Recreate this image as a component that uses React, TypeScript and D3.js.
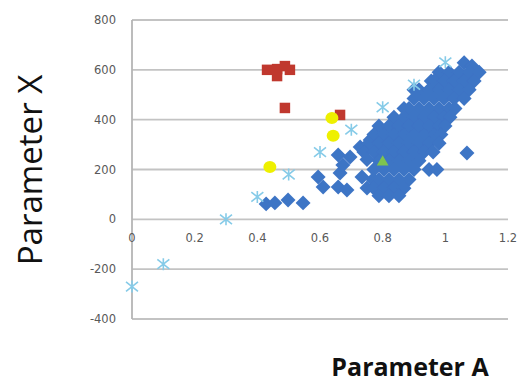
import React from 'react';
import * as d3 from 'd3';

const xTicks = [0, 0.2, 0.4, 0.6, 0.8, 1, 1.2];
const yTicks = [-400, -200, 0, 200, 400, 600, 800];

// blue diamonds (scattered ones first, then the dense band row by row)
const blueSeries: [number, number][] = [
  [0.428, 62], [0.456, 66], [0.498, 78], [0.546, 66],
  [0.594, 170], [0.61, 130], [0.658, 130], [0.686, 118], [0.664, 186], [0.673, 218],
  [0.658, 258], [0.696, 250], [0.734, 170], [0.75, 126], [0.728, 290], [0.76, 318],
  [1.069, 266],
  [1.06, 628], [1.085, 615],
  [0.98, 590], [1.012, 590], [1.044, 590], [1.076, 590], [1.108, 590],
  [0.955, 555], [0.964, 555], [0.996, 555], [1.028, 555], [1.06, 555], [1.092, 555],
  [0.9, 520], [0.916, 520], [0.948, 520], [0.98, 520], [1.012, 520], [1.044, 520], [1.076, 520],
  [0.9, 485], [0.932, 485], [0.964, 485], [0.996, 485], [1.028, 485], [1.06, 485],
  [0.868, 445], [0.884, 445], [0.916, 445], [0.948, 445], [0.98, 445], [1.012, 445], [1.031, 445],
  [0.836, 410], [0.868, 410], [0.9, 410], [0.932, 410], [0.964, 410], [0.996, 410], [1.015, 410],
  [0.788, 375], [0.82, 375], [0.852, 375], [0.884, 375], [0.916, 375], [0.948, 375], [0.98, 375], [0.999, 375],
  [0.772, 340], [0.804, 340], [0.836, 340], [0.868, 340], [0.9, 340], [0.932, 340], [0.964, 340], [0.986, 340],
  [0.756, 305], [0.788, 305], [0.82, 305], [0.852, 305], [0.884, 305], [0.916, 305], [0.948, 305], [0.98, 305],
  [0.74, 270], [0.772, 270], [0.804, 270], [0.836, 270], [0.868, 270], [0.9, 270], [0.932, 270], [0.961, 270],
  [0.75, 240], [0.788, 235], [0.82, 235], [0.852, 235], [0.884, 235], [0.916, 235],
  [0.772, 200], [0.804, 200], [0.836, 200], [0.868, 200], [0.9, 200], [0.948, 200], [0.973, 200],
  [0.769, 160], [0.788, 160], [0.82, 160], [0.852, 160], [0.884, 160],
  [0.772, 125], [0.804, 125], [0.836, 125], [0.868, 125],
  [0.788, 95], [0.82, 95], [0.852, 95],
];
const redSeries: [number, number][] = [
  [0.431, 600], [0.463, 603], [0.463, 575], [0.488, 615], [0.504, 600], [0.488, 447], [0.664, 419],
];
const yellowSeries: [number, number][] = [[0.638, 407], [0.642, 335], [0.44, 210]];
const greenSeries: [number, number][] = [[0.8, 230]];
const starSeries: [number, number][] = [
  [0, -270], [0.1, -180], [0.3, 0], [0.4, 90], [0.5, 180],
  [0.6, 270], [0.7, 360], [0.8, 450], [0.9, 540], [1.0, 630],
];

const W = 522;
const H = 382;

export default function App() {
  const x = d3.scaleLinear().domain([0, 1.2]).range([132, 508]);
  const y = d3.scaleLinear().domain([-400, 800]).range([319, 20]);

  const diamond = d3.symbol().type(d3.symbolSquare).size(112)();
  const square = d3.symbol().type(d3.symbolSquare).size(110)();
  const triangle = d3.symbol().type(d3.symbolTriangle).size(60)();
  const r = 6;
  const star = `M${-r},${-r * 0.8}L${r},${r * 0.8}M${-r},${r * 0.8}L${r},${-r * 0.8}M0,${-r}L0,${r}`;

  const tickFont = '"DejaVu Sans", sans-serif';

  return (
    <div style={{ position: 'fixed', left: 0, top: 0 }}>
      <svg width={W} height={H} style={{ display: 'block', background: '#fff' }}>
        <defs>
          <filter id="soft" x="-10%" y="-10%" width="120%" height="120%">
            <feGaussianBlur stdDeviation="0.5" />
          </filter>
        </defs>
        {/* gridlines */}
        {yTicks.map((t) => (
          <line key={t} x1={x(0)} x2={x(1.2)} y1={y(t)} y2={y(t)} stroke="#c3c3c3" strokeWidth={1.8} />
        ))}
        <line x1={x(0)} x2={x(0)} y1={y(800)} y2={y(-400)} stroke="#b5b5b5" strokeWidth={1.8} />

        {/* y tick labels */}
        {yTicks.map((t) => (
          <text key={t} x={116} y={y(t)} dy="0.35em" textAnchor="end" fontSize={11.5}
            fontFamily={tickFont} fill="#595959">{t}</text>
        ))}
        {/* x tick labels */}
        {xTicks.map((t) => (
          <text key={t} x={x(t)} y={y(0) + 23} textAnchor="middle" fontSize={11.5}
            fontFamily={tickFont} fill="#595959">{t}</text>
        ))}

        {/* series */}
        <g filter="url(#soft)">
          {blueSeries.map((d, i) => (
            <path key={'b' + i} d={diamond} fill="#3d74c5"
              transform={`translate(${x(d[0])},${y(d[1])}) rotate(45)`} />
          ))}
          {redSeries.map((d, i) => (
            <path key={'r' + i} d={square} fill="#c0392f"
              transform={`translate(${x(d[0])},${y(d[1])})`} />
          ))}
          {yellowSeries.map((d, i) => (
            <ellipse key={'y' + i} cx={x(d[0])} cy={y(d[1])} rx={6.5} ry={6} fill="#eef000" />
          ))}
          {greenSeries.map((d, i) => (
            <path key={'g' + i} d={triangle} fill="#7ec44f"
              transform={`translate(${x(d[0])},${y(d[1])})`} />
          ))}
          {starSeries.map((d, i) => (
            <path key={'s' + i} d={star} fill="none" stroke="#86cbe8" strokeWidth={1.6}
              transform={`translate(${x(d[0])},${y(d[1])})`} />
          ))}
        </g>

        {/* axis titles */}
        <text transform="translate(42,170) rotate(-90)" textAnchor="middle" fontSize={33}
          fontFamily='"Open Sans", sans-serif' fill="#111">Parameter X</text>
        <text x={410} y={376} textAnchor="middle" fontSize={25} fontWeight="bold"
          fontFamily='"Open Sans", sans-serif' fill="#111">Parameter A</text>
      </svg>
    </div>
  );
}
